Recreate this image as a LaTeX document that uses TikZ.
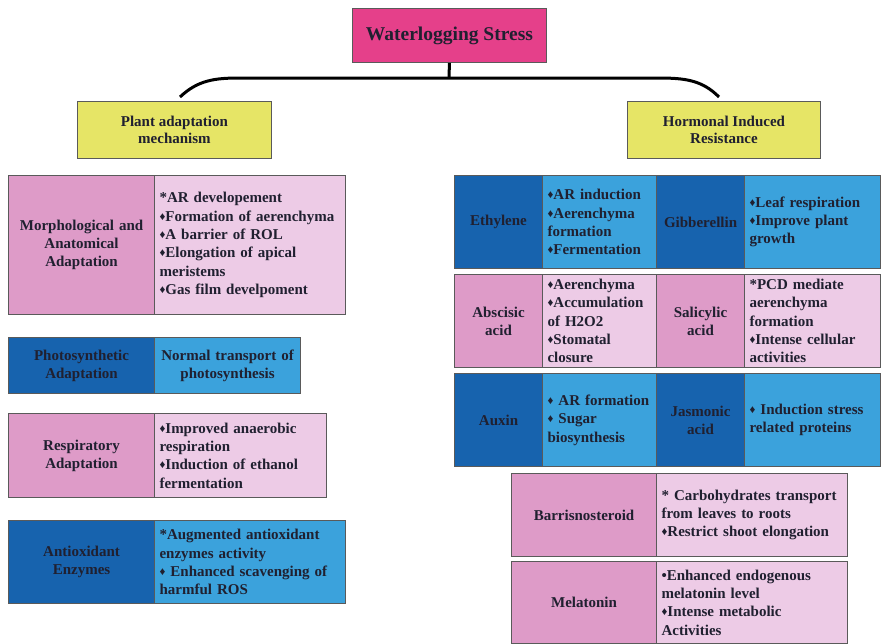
\documentclass[tikz,border=0pt]{standalone}
\usepackage{fontspec}
\setmainfont{Liberation Serif}
\definecolor{pinkD}{HTML}{DE9BC8}
\definecolor{pinkL}{HTML}{EDCBE6}
\definecolor{blueD}{HTML}{1763AE}
\definecolor{blueL}{HTML}{3BA2DC}
\definecolor{titleC}{HTML}{E5408A}
\definecolor{yellowC}{HTML}{E6E566}
\definecolor{edgeC}{HTML}{5A5A5A}
\definecolor{txtC}{HTML}{202030}
\newcommand{\dm}{{\fontsize{11.5}{11.5}\selectfont\raisebox{1pt}{♦}}}
\newcommand{\cellnode}[8]{%
  \pgfmathsetmacro\cellw{#4-#2-10}%
  \pgfmathsetmacro\cellh{#5-#3}%
  \node[cellbox, fill=#6, align=#7, anchor=north west, text width=\cellw pt, minimum height=\cellh pt] (#1) at (#2,#3) {#8};}
\tikzset{
  cellbox/.style={draw=edgeC, line width=1.1pt, inner xsep=5pt, inner ysep=0pt, text=txtC,
    font=\bfseries\fontsize{15}{18.3}\selectfont},
  headbox/.style={draw=edgeC, line width=0.9pt, text=txtC, anchor=north west, inner sep=0pt},
  bracket/.style={line width=3pt, draw=black}
}
\begin{document}
\begin{tikzpicture}[x=1pt,y=-1pt]
\useasboundingbox (0,0) rectangle (884,643);
% title and branches
\node[headbox, fill=titleC, minimum width=194pt, minimum height=54pt, font=\bfseries\fontsize{19.5}{22}\selectfont] (title) at (352,8) {Waterlogging Stress};
\node[headbox, fill=yellowC, minimum width=194pt, minimum height=57pt, align=center, font=\bfseries\fontsize{15}{17.5}\selectfont] (plant) at (77,101) {Plant adaptation\\mechanism};
\node[headbox, fill=yellowC, minimum width=193pt, minimum height=57pt, align=center, font=\bfseries\fontsize{15}{17.5}\selectfont] (horm) at (627,101) {Hormonal Induced\\Resistance};
\coordinate (joint) at (449,78);
\coordinate (lend) at (180,97);
\coordinate (rend) at (719,97);
\draw[bracket] (title.south) -- (joint);
\draw[bracket] (lend) .. controls (198,80) and (215,78) .. (240,78) -- (joint) -- (658,78) .. controls (685,78) and (702,80) .. (rend);
% left column
\cellnode{morphL}{8}{175}{154}{314}{pinkD}{center}{Morphological and\\Anatomical\\Adaptation}
\cellnode{morphR}{154}{175}{345}{314}{pinkL}{left}{*AR developement\\\dm Formation of aerenchyma\\\dm A barrier of ROL\\\dm Elongation of apical\\meristems\\\dm Gas film develpoment}
\cellnode{photoL}{8}{337}{154}{393}{blueD}{center}{Photosynthetic\\Adaptation}
\cellnode{photoR}{154}{337}{300}{393}{blueL}{center}{Normal transport of\\photosynthesis}
\cellnode{respL}{8}{413}{154}{497}{pinkD}{center}{Respiratory\\Adaptation}
\cellnode{respR}{154}{413}{326}{497}{pinkL}{left}{\dm Improved anaerobic\\respiration\\\dm Induction of ethanol\\fermentation}
\cellnode{antiL}{8}{520}{154}{603}{blueD}{center}{Antioxidant\\Enzymes}
\cellnode{antiR}{154}{520}{345}{603}{blueL}{left}{*Augmented antioxidant\\enzymes activity\\\dm{} Enhanced scavenging of\\harmful ROS}
% right grid
\cellnode{ethL}{454}{175}{542}{268}{blueD}{center}{Ethylene}
\cellnode{ethR}{542}{175}{656}{268}{blueL}{left}{\dm AR induction\\\dm Aerenchyma\\formation\\\dm Fermentation}
\cellnode{gibL}{656}{175}{744}{268}{blueD}{center}{Gibberellin}
\cellnode{gibR}{744}{175}{880}{268}{blueL}{left}{\dm Leaf respiration\\\dm Improve plant\\growth}
\cellnode{abaL}{454}{274}{542}{367}{pinkD}{center}{Abscisic\\acid}
\cellnode{abaR}{542}{274}{656}{367}{pinkL}{left}{\dm Aerenchyma\\\dm Accumulation\\of H2O2\\\dm Stomatal\\closure}
\cellnode{salL}{656}{274}{744}{367}{pinkD}{center}{Salicylic\\acid}
\cellnode{salR}{744}{274}{880}{367}{pinkL}{left}{*PCD mediate\\aerenchyma\\formation\\\dm Intense cellular\\activities}
\cellnode{auxL}{454}{373}{542}{466}{blueD}{center}{Auxin}
\cellnode{auxR}{542}{373}{656}{466}{blueL}{left}{\dm{} AR formation\\\dm{} Sugar\\biosynthesis}
\cellnode{jasL}{656}{373}{744}{466}{blueD}{center}{Jasmonic\\acid}
\cellnode{jasR}{744}{373}{880}{466}{blueL}{left}{\dm{} Induction stress\\related proteins}
\cellnode{barL}{511}{473}{656}{556}{pinkD}{center}{Barrisnosteroid}
\cellnode{barR}{656}{473}{847}{556}{pinkL}{left}{* Carbohydrates transport\\from leaves to roots\\\dm Restrict shoot elongation}
\cellnode{melL}{511}{561}{656}{643}{pinkD}{center}{Melatonin}
\cellnode{melR}{656}{561}{847}{643}{pinkL}{left}{•Enhanced endogenous\\melatonin level\\\dm Intense metabolic\\Activities}
\end{tikzpicture}
\end{document}
